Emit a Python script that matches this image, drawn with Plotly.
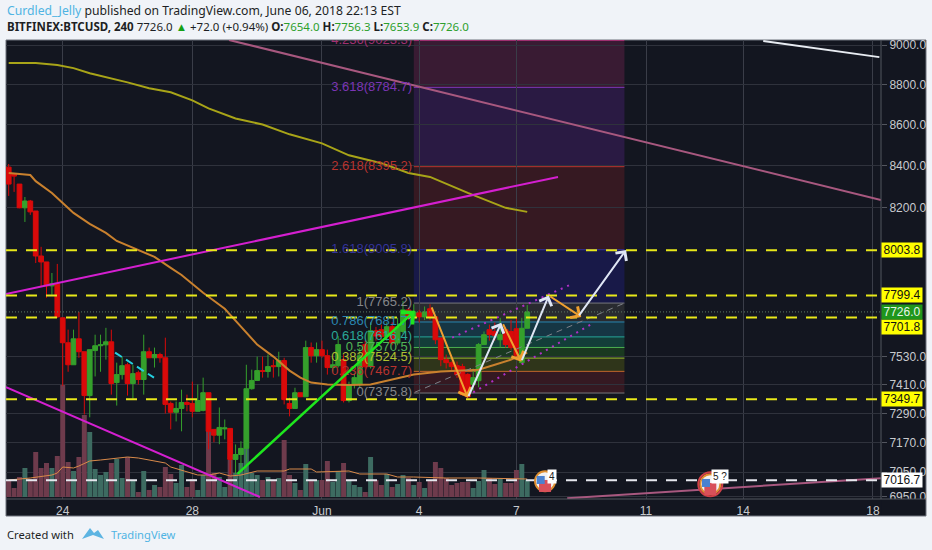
import numpy as np
import plotly.graph_objects as go

# 4h bars, bar 0 = May 22 08:00
bar_open = [8393,8360,8312,8200,8232,8185,7977,7950,7842,7851,
            7700,7591,7496,7608,7552,7365,7557,7578,7582,7595,
            7420,7454,7496,7416,7462,7433,7552,7526,7540,7526,
            7332,7295,7311,7336,7332,7299,7303,7377,7224,7200,
            7226,7228,7101,7121,7146,7394,7429,7471,7467,7492,
            7488,7514,7332,7311,7377,7360,7570,7535,7561,7535,
            7484,7492,7518,7344,7412,7412,7583,7488,7643,7648,
            7618,7661,7590,7640,7735,7700,7722,7704,7740,7704,
            7612,7518,7505,7492,7488,7454,7412,7428,7583,7648,
            7640,7604,7648,7640,7652,7505,7654.0]
bar_high = [8408,8365,8312,8251,8237,8185,8019,7950,7900,7941,
            7700,7648,7648,7726,7552,7561,7626,7626,7656,7648,
            7505,7531,7505,7496,7471,7626,7570,7570,7548,7613,
            7340,7340,7390,7369,7424,7412,7441,7377,7224,7315,
            7265,7228,7162,7175,7496,7475,7531,7531,7540,7518,
            7552,7526,7356,7398,7377,7600,7592,7592,7600,7561,
            7526,7620,7540,7424,7462,7570,7600,7680,7660,7670,
            7680,7680,7700,7775,7745,7760,7735,7750,7760,7704,
            7612,7540,7510,7510,7500,7460,7480,7590,7640,7670,
            7680,7700,7660,7690,7700,7700,7756.3]
bar_low = [8256,8275,8198,8134,8167,7945,7837,7789,7802,7700,
           7406,7466,7496,7526,7286,7274,7446,7466,7518,7369,
           7323,7433,7365,7352,7412,7369,7526,7484,7505,7290,
           7224,7257,7216,7299,7274,7299,7299,7142,7171,7163,
           7183,7041,7041,7053,7053,7390,7429,7441,7441,7441,
           7446,7328,7278,7311,7360,7360,7505,7505,7526,7454,
           7467,7484,7336,7336,7395,7400,7480,7480,7600,7600,
           7600,7580,7580,7630,7690,7690,7680,7690,7690,7585,
           7490,7480,7470,7440,7365,7354,7385,7400,7583,7600,
           7600,7570,7570,7560,7526,7500,7653.9]
bar_close = [8312,8350,8200,8232,8181,7977,7950,7842,7851,7704,
             7591,7496,7608,7552,7365,7561,7578,7582,7595,7416,
             7454,7492,7416,7458,7433,7552,7526,7540,7526,7328,
             7295,7311,7336,7328,7299,7344,7377,7216,7200,7232,
             7230,7101,7121,7146,7394,7429,7471,7467,7488,7488,
             7514,7348,7311,7377,7360,7570,7535,7561,7535,7484,
             7496,7583,7344,7412,7441,7535,7488,7643,7620,7618,
             7661,7590,7660,7735,7700,7726,7704,7726,7704,7604,
             7518,7505,7488,7454,7369,7360,7441,7583,7626,7626,
             7622,7626,7583,7570,7535,7654,7726.0]
volume = [17,9,20,29,18,45,29,34,29,41,
          112,35,26,40,82,65,28,22,25,34,
          38,19,40,17,5,26,7,12,10,30,
          23,14,32,10,18,7,22,67,24,20,
          10,37,24,34,67,24,22,17,20,17,
          19,57,22,14,7,33,17,17,17,36,
          15,26,34,17,12,10,5,40,17,12,
          23,10,13,22,19,12,15,9,17,35,
          29,19,12,14,15,15,9,16,27,19,
          13,18,14,14,27,33,17]

vol_ma_idx = [0,2,4,8,9,10,12,13,15,17,19,20,22,24,26,29,30,32,35,37,39,41,43,46,50,51,52,56,57,63,65,70,72,75,81,87,96]
vol_ma = [17,18,19,22,24,30,29,31,36,37,38,39,40,39,37,34,30,27,22,22,24,21,22,26,26,26,28,28,25,26,23,23,20,20,19,19,18]

ema_idx = [0,4,5,8,10,12,15,18,20,24,27,30,32,36,40,43,46,49,52,54,56,59,63,67,71,75,80,87,90,93,96]
ema_val = [8365,8355,8326,8270,8223,8176,8125,8083,8046,8005,7973,7923,7891,7811,7740,7661,7583,7531,7471,7441,7420,7412,7410,7412,7433,7454,7467,7475,7496,7518,7548]

ma_idx = [0,5,9,12,15,19,22,26,30,34,37,42,47,52,58,63,69,74,78,85,89,92,96]
ma_val = [8908,8908,8898,8882,8856,8830,8810,8780,8760,8720,8680,8630,8600,8552,8508,8450,8412,8365,8346,8270,8228,8200,8181]

tick_bars = [10,34,58,76,94,118,136,160]
tick_names = ["24","28","Jun","4","7","11","14","18"]
price_ticks = [9000,8800,8600,8400,8200,7530,7410,7290,7170,7050,6950]

# fib retracement
fib_start, fib_end = 75, 114
fib_ratio = ["4.236","3.618","2.618","1.618","1","0.786","0.618","0.5","0.382","0.236","0"]
fib_price = [9023.3,8784.7,8395.2,8005.8,7765.2,7681.7,7616.4,7570.5,7524.5,7467.7,7375.8]
fib_line = ["#a03070","#7b35b5","#b8332e","#33339a","#77787c","#2a86b0","#26a69a","#4caf50","#9cb82e","#c0662a","#77787c"]
fib_text = ["#a03070","#7b35b5","#b8332e","#33339a","#85868a","#2a86b0","#2aa898","#52b556","#b0c030","#b8332e","#85868a"]
fib_fill = ["#3e1c35","#2e1b47","#3b1a22","#1a1a4d","#2c2d32","#173a48","#14423c","#1c3d20","#33391a","#3a1a22"]

# levels with a price tag on the axis
level_price = [8003.8,7799.4,7701.8,7349.7]
white_level = 7016.7
last_price = 7726.0

# trend lines: bar index / price pairs
mauve_x, mauve_y = [40.8,161.5], [9026,8237]
white_x, white_y = [139.7,161.2], [9021,8938]
low_mauve_x, low_mauve_y = [103.4,161.5], [6945,7025]
up_x, up_y = [-0.5,101.7], [7806,8346]
down_x, down_y = [-0.5,46.5], [7401,6950]
chan_up_x, chan_up_y = [82.1,103.9], [7613,7846]
chan_lo_x, chan_lo_y = [86,107.7], [7379,7670]
chan_mid_x, chan_mid_y = [75.2,114.1], [7379,7766]
cyan_x, cyan_y = [19.7,26.9], [7548,7441]

# arrows: tail bar, tail price, tip bar, tip price, colour, width
arrows = [(42.1,7037,75.2,7731,"#1ee61e",2.5),
          (78.2,7753,85,7356,"#f0a030",2),
          (85,7356,91.2,7678,"#dfe6f5",2),
          (91.4,7678,94.9,7509,"#f0a030",2),
          (94.9,7509,100,7799,"#dfe6f5",2),
          (100,7799,106,7704,"#f0a030",2),
          (105.4,7704,114.3,8005,"#dfe6f5",2)]

panel = "#131620"
grid = "#2f323c"
axis_text = "#c8cace"

def xp(x):
    return (x - 6) / 875

def yp(y):
    return (499 - y) / 459

fig = go.Figure()

vol_colors = ["#3d6b61" if c >= o else "#6e3b4c" for o, c in zip(bar_open, bar_close)]
fig.add_trace(go.Bar(x=list(range(len(volume))), y=volume, marker=dict(color=vol_colors, line_width=0),
                     width=0.92, yaxis="y"))
fig.add_trace(go.Scatter(x=vol_ma_idx, y=vol_ma, mode="lines", line=dict(color="#d98a4a", width=1), yaxis="y"))

fig.add_trace(go.Candlestick(x=list(range(len(bar_open))), open=bar_open, high=bar_high, low=bar_low, close=bar_close,
                             yaxis="y2",
                             increasing=dict(line=dict(color="#35a02c", width=1), fillcolor="#35a02c"),
                             decreasing=dict(line=dict(color="#d90a0a", width=1), fillcolor="#d90a0a")))


def price_line(x, y, color, width=2, dash="solid"):
    fig.add_trace(go.Scatter(x=x, y=y, mode="lines", yaxis="y2", line=dict(color=color, width=width, dash=dash)))


price_line(ma_idx, ma_val, "#a8a418")
price_line(ema_idx, ema_val, "#c9812e")
price_line(mauve_x, mauve_y, "#a8587f")
price_line(low_mauve_x, low_mauve_y, "#a8587f")
price_line(white_x, white_y, "#e8ecf2")
price_line(up_x, up_y, "#d41fd0")
price_line(down_x, down_y, "#d41fd0")
price_line(chan_up_x, chan_up_y, "#b030c8", 2, "2px,5px")
price_line(chan_lo_x, chan_lo_y, "#b030c8", 2, "2px,5px")
price_line(chan_mid_x, chan_mid_y, "#7f828a", 1, "6px,5px")
price_line(cyan_x, cyan_y, "#25d0e0", 2, "8px,5px")

for level in level_price:
    price_line([-0.5, 161.5], [level, level], "#e8e81a", 2, "11px,9px")
price_line([-0.5, 161.5], [white_level, white_level], "#e6e8ee", 2, "11px,9px")
price_line([-0.5, 161.5], [last_price, last_price], "#5f7a66", 1, "1px,2px")

fig.add_trace(go.Scatter(x=[fib_start - 0.3] * len(fib_price), y=fib_price, mode="text", yaxis="y2",
                         text=[f"{r}({p})" for r, p in zip(fib_ratio, fib_price)],
                         textposition="middle left",
                         textfont=dict(family="Liberation Sans", size=13, color=fib_text)))

# economic event flags
flag_x = [99.3, 129.9]
flag_y = [7013, 7001]
fig.add_trace(go.Scatter(x=flag_x, y=flag_y, mode="markers", yaxis="y2",
                         marker=dict(size=20, color="#f2f2f2", line=dict(color="#e09030", width=2))))
fig.add_trace(go.Scatter(x=[129.9], y=[7001], mode="markers", yaxis="y2",
                         marker=dict(size=24, color="rgba(0,0,0,0)", line=dict(color="#d04048", width=2))))
fig.add_trace(go.Scatter(x=[99.3, 129.9], y=[6994, 6982], mode="markers", yaxis="y2",
                         marker=dict(size=12, symbol="square", color="#d8505a")))
fig.add_trace(go.Scatter(x=[98.5, 129.1], y=[7018, 7006], mode="markers", yaxis="y2",
                         marker=dict(size=8, symbol="square", color="#4a82d0")))

shapes = [dict(type="rect", xref="paper", yref="paper", x0=0, x1=xp(926), y0=yp(516), y1=1,
               fillcolor=panel, line=dict(color="#6f737c", width=1), layer="below")]
for i, color in enumerate(fib_fill):
    shapes.append(dict(type="rect", xref="x", yref="y2", x0=fib_start, x1=fib_end,
                       y0=fib_price[i + 1], y1=fib_price[i],
                       fillcolor=color, opacity=0.9, line_width=0, layer="below"))
shapes.append(dict(type="rect", xref="x", yref="y2", x0=fib_start, x1=fib_end, y0=9023.3, y1=9026,
                   fillcolor=fib_fill[0], opacity=0.9, line_width=0, layer="below"))
for price, color in zip(fib_price, fib_line):
    shapes.append(dict(type="line", xref="x", yref="y2", x0=fib_start, x1=fib_end, y0=price, y1=price,
                       line=dict(color=color, width=1), layer="below"))
# frame lines and the clipped bottom of the price scale
shapes.append(dict(type="rect", xref="paper", yref="paper", x0=1.001, x1=xp(925), y0=yp(515), y1=0,
                   fillcolor=panel, line_width=0, layer="above"))
shapes.append(dict(type="line", xref="paper", yref="paper", x0=1, x1=1, y0=0, y1=1,
                   line=dict(color="#53565f", width=1), layer="above"))
shapes.append(dict(type="line", xref="paper", yref="paper", x0=0, x1=xp(926), y0=0, y1=0,
                   line=dict(color="#53565f", width=1), layer="above"))

# TradingView logo
logo = "M {} {} L {} {} L {} {} L {} {} L {} {} L {} {} Z".format(
    xp(82), yp(539), xp(90), yp(528), xp(94), yp(533), xp(98), yp(530), xp(104), yp(539), xp(93), yp(535))
shapes.append(dict(type="path", xref="paper", yref="paper", path=logo, fillcolor="#5db4e2", line_width=0))

annotations = []
for x0, y0, x1, y1, color, w in arrows:
    annotations.append(dict(x=x1, y=np.log10(y1), ax=x0, ay=np.log10(y0), xref="x", yref="y2", axref="x", ayref="y2",
                            text="", showarrow=True, arrowhead=4, arrowsize=1.3, arrowwidth=w, arrowcolor=color, standoff=0))


def tag(price, text, bg, fg, shift=0):
    annotations.append(dict(x=1.0, y=np.log10(price), xref="paper", yref="y2", xanchor="left", yanchor="middle",
                            text=text, showarrow=False, bgcolor=bg, width=40, height=14, borderpad=0, yshift=shift,
                            font=dict(family="Liberation Sans", size=12, color=fg)))


tag(8003.8, "8003.8", "#ffff00", "#111111")
tag(7799.4, "7799.4", "#ffff00", "#111111")
tag(7701.8, "7701.8", "#ffff00", "#111111", -10)
tag(7349.7, "7349.7", "#ffff00", "#111111")
tag(last_price, f"{last_price}", "#1f961c", "#e8f5e8")
tag(white_level, f"{white_level}", "#ffffff", "#111111")

# badges on the flags
annotations.append(dict(x=100.6, y=np.log10(7030), xref="x", yref="y2", text="4", showarrow=False,
                        bgcolor="#ffffff", borderpad=1, font=dict(family="Liberation Sans", size=10, color="#222222")))
annotations.append(dict(x=131.6, y=np.log10(7030), xref="x", yref="y2", text="5 ?", showarrow=False,
                        bgcolor="#ffffff", borderpad=1, font=dict(family="Liberation Sans", size=10, color="#222222")))


def page_text(x, y, text, size=12):
    annotations.append(dict(x=xp(x), y=yp(y), xref="paper", yref="paper", xanchor="left", yanchor="middle",
                            text=text, showarrow=False, align="left",
                            font=dict(family="Noto Sans", size=size, color="#1d1f24")))


green = "#2ca02c"
page_text(5, 10, '<span style="color:#4fb3e3">Curdled_Jelly</span> published on TradingView.com, June 06, 2018 22:13 EST', 12.2)
page_text(5, 27, f'<b>BITFINEX:BTCUSD, 240</b> 7726.0 <span style="color:#14a014">▲</span> +72.0 (+0.94%) '
                 f'<b>O:</b><span style="color:{green}">7654.0</span> <b>H:</b><span style="color:{green}">7756.3</span> '
                 f'<b>L:</b><span style="color:{green}">7653.9</span> <b>C:</b><span style="color:{green}">7726.0</span>', 11.5)
page_text(5, 534, "Created with", 11.2)
page_text(109, 534, '<span style="color:#4fb3e3">TradingView</span>', 11.2)

fig.update_layout(
    width=932, height=550,
    margin=dict(l=6, r=51, t=40, b=51, autoexpand=False),
    paper_bgcolor="#f0f3f8",
    plot_bgcolor=panel,
    showlegend=False,
    boxgap=0.12,
    boxgroupgap=0,
    bargap=0.1,
    shapes=shapes,
    annotations=annotations,
    xaxis=dict(range=[-0.5, 161.5], tickmode="array", tickvals=tick_bars, ticktext=tick_names,
               rangeslider=dict(visible=False), showgrid=True, gridcolor="#3a3d48", gridwidth=1, zeroline=False,
               tickfont=dict(family="Liberation Sans", size=12, color=axis_text), ticks="outside", ticklen=1,
               tickcolor=panel, showline=False),
    yaxis=dict(range=[-2, 457], visible=False, fixedrange=True),
    yaxis2=dict(type="log", overlaying="y", side="right", range=[np.log10(6942), np.log10(9026)],
                tickmode="array", tickvals=price_ticks, ticktext=[f"{p}.0" for p in price_ticks],
                showgrid=True, gridcolor=grid, gridwidth=1, zeroline=False,
                tickfont=dict(family="Liberation Sans", size=12, color=axis_text),
                ticks="outside", ticklen=5, tickcolor="#53565f", showline=False),
)

fig.write_html("out.html", config={"displayModeBar": False},
               post_script="document.body.style.margin='0';document.body.style.overflow='hidden';")
